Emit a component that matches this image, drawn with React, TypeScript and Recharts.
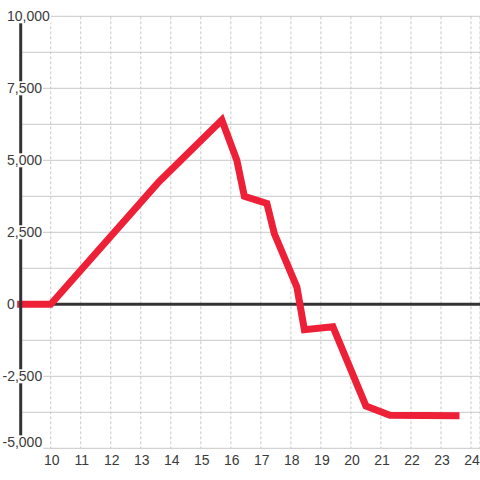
import React from "react";
import { LineChart, Line, XAxis, YAxis, CartesianGrid, ReferenceLine } from "recharts";

const xValues = [9, 10, 13.6, 15.7, 16.2, 16.45, 17.2, 17.45, 18.2, 18.45, 19.4, 20.5, 21.3, 23.5];
const yValues = [0, 0, 4250, 6400, 5000, 3750, 3500, 2450, 600, -880, -780, -3530, -3850, -3870];
const xTicks = [10, 11, 12, 13, 14, 15, 16, 17, 18, 19, 20, 21, 22, 23, 24];
const yGridTicks = [-5000, -3750, -2500, -1250, 0, 1250, 2500, 3750, 5000, 6250, 7500, 8750, 10000];

const data = xValues.map((x, i) => ({ x, y: yValues[i] }));

const BG = "#ffffff";
const TEXT = "#3a3a3a";

const charW = (c: string) => (c === "," ? 3.9 : c === "-" ? 4.7 : 7.8);

const YTick = (props: any) => {
  const { y, payload } = props;
  const v = payload.value as number;
  if (v % 2500 !== 0) return <g />;
  const label = v.toLocaleString("en-US");
  const w = label.split("").reduce((s, c) => s + charW(c), 0);
  const x0 = v < 0 ? 2.5 : 7;
  const yy = v === -5000 ? y - 6 : y;
  return (
    <g>
      <rect x={x0 - 1} y={yy - 7} width={w + 2} height={14} fill={BG} />
      <text
        x={x0}
        y={yy + 5}
        textAnchor="start"
        fontFamily="Liberation Sans, Arial, sans-serif"
        fontSize={14}
        fill={TEXT}
      >
        {label}
      </text>
    </g>
  );
};

const XTick = (props: any) => {
  const { x, payload } = props;
  return (
    <text
      x={x + 1}
      y={465}
      textAnchor="middle"
      fontFamily="Liberation Sans, Arial, sans-serif"
      fontSize={14}
      fill={TEXT}
    >
      {payload.value}
    </text>
  );
};

export default function App() {
  return (
    <div style={{ position: "absolute", left: 0, top: 0, width: 480, height: 480, background: BG }}>
      <LineChart
        width={480}
        height={480}
        data={data}
        margin={{ top: 16.3, right: 0, bottom: 0, left: 0 }}
      >
        <CartesianGrid
          horizontal={true}
          vertical={false}
          stroke="#c8c8c8"
          strokeWidth={1}
        />
        <CartesianGrid
          horizontal={false}
          vertical={true}
          stroke="#c8c8c8"
          strokeDasharray="3 2"
          strokeWidth={1}
        />
        <XAxis
          type="number"
          dataKey="x"
          domain={[9, 24.3]}
          ticks={xTicks}
          axisLine={false}
          tickLine={false}
          height={31.7}
          tick={<XTick />}
          interval={0}
        />
        <ReferenceLine y={0} stroke="#333333" strokeWidth={3} />
        <YAxis
          type="number"
          domain={[-5000, 10000]}
          ticks={yGridTicks}
          width={20.7}
          axisLine={{ stroke: "#333333", strokeWidth: 3 }}
          tickLine={false}
          tick={<YTick />}
          interval={0}
        />
        <Line
          type="linear"
          dataKey="y"
          stroke="#ed2038"
          strokeWidth={7}
          strokeLinecap="square"
          strokeLinejoin="miter"
          dot={false}
          activeDot={false}
          isAnimationActive={false}
        />
      </LineChart>
    </div>
  );
}
